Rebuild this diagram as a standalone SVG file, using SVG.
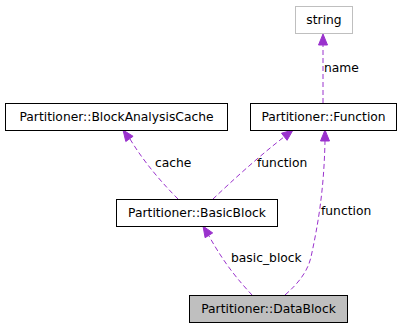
<svg xmlns="http://www.w3.org/2000/svg" width="403" height="328" viewBox="0 0 403 328">
  <style>
    .node rect { fill: #ffffff; stroke: #000000; stroke-width: 1; }
    .node.ext rect { stroke: #bfbfbf; }
    .node.cur rect { fill: #bfbfbf; }
    text { font-family: "DejaVu Sans", "Liberation Sans", sans-serif; font-size: 12.3px; fill: #000000; }
    .node text { text-anchor: middle; }
    .edge path { fill: none; stroke: #9a32cd; stroke-width: 1; stroke-dasharray: 5,3; }
    .edge polygon { fill: #9a32cd; stroke: #9a32cd; stroke-width: 1; }
  </style>
  <rect width="403" height="328" fill="#ffffff"/>

  <g id="edges">
    <g class="edge" id="edge-name">
      <path d="M323,103 L323,45"/>
      <polygon points="323,34 327.5,45 318.5,45"/>
      <text x="324" y="71.5">name</text>
    </g>
    <g class="edge" id="edge-cache">
      <path d="M178,199 C165,186 145,164 130,139"/>
      <polygon points="123,130 133.1,136.3 125.8,141.5"/>
      <text x="155" y="167">cache</text>
    </g>
    <g class="edge" id="edge-bb-function">
      <path d="M213,199 C232,181 258,157 284,137"/>
      <polygon points="293,130 287.1,140.3 281.5,133.2"/>
      <text x="257" y="167">function</text>
    </g>
    <g class="edge" id="edge-db-function">
      <path d="M285,295 C300,282 308,270 311,257 C318,225 324,190 325,141"/>
      <polygon points="325,130 329.5,141 320.5,141"/>
      <text x="321" y="215">function</text>
    </g>
    <g class="edge" id="edge-basic-block">
      <path d="M252,295 C240,282 225,265 209,236"/>
      <polygon points="203,226 212.7,232.9 205.1,237.7"/>
      <text x="231" y="262">basic_block</text>
    </g>
  </g>

  <g id="node-string" class="node ext">
    <rect x="295.5" y="6.5" width="57" height="27"/>
    <text x="324" y="24">string</text>
  </g>
  <g id="node-blockanalysiscache" class="node">
    <rect x="5.5" y="103.5" width="222" height="27"/>
    <text x="116.5" y="121">Partitioner::BlockAnalysisCache</text>
  </g>
  <g id="node-function" class="node">
    <rect x="250.5" y="103.5" width="146" height="27"/>
    <text x="323.5" y="121">Partitioner::Function</text>
  </g>
  <g id="node-basicblock" class="node">
    <rect x="116.5" y="199.5" width="161" height="27"/>
    <text x="197" y="217">Partitioner::BasicBlock</text>
  </g>
  <g id="node-datablock" class="node cur">
    <rect x="189.5" y="295.5" width="158" height="27"/>
    <text x="268.5" y="313">Partitioner::DataBlock</text>
  </g>
</svg>
